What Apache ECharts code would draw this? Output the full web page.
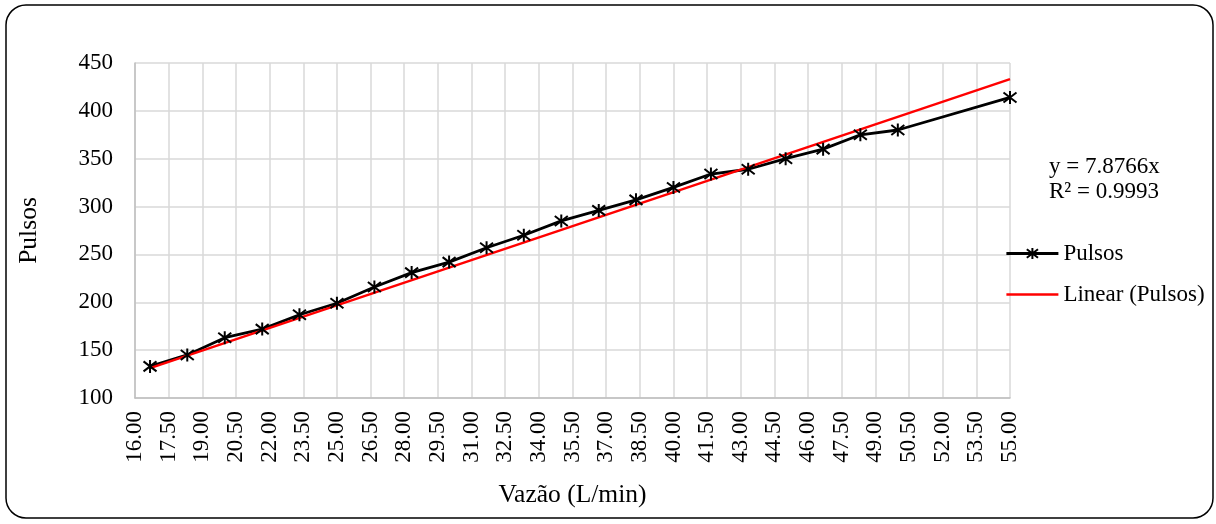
<!DOCTYPE html>
<html>
<head>
<meta charset="utf-8">
<script src="https://cdn.jsdelivr.net/npm/echarts@6/dist/echarts.min.js"></script>
<style>
  html, body { margin: 0; padding: 0; background: #fff; }
  #chart { width: 1216px; height: 524px; }
</style>
</head>
<body>
<div id="chart"></div>
<script>
var vazao = [16.67, 18.33, 20.00, 21.67, 23.33, 25.00, 26.67, 28.33, 30.00, 31.67, 33.33,
             35.00, 36.67, 38.33, 40.00, 41.67, 43.33, 45.00, 46.67, 48.33, 50.00, 55.00];
var pulsos = [133, 145, 163, 172, 187, 199, 216, 231, 242, 257, 270,
              285, 296, 307, 320, 334, 339, 350, 360, 375, 380, 414];
// trendline ends
var trendX = [16.67, 55.00];
var trendY = [131.3, 433.2];
var eqLines = ['y = 7.8766x', 'R² = 0.9993'];

var serif = "'Liberation Serif', 'Times New Roman', serif";
var star = 'path://M0 0 L10 10 M10 0 L0 10 M5 -1.5 L5 11.5';

var pts = vazao.map(function (v, i) { return [v, pulsos[i]]; });
var trend = trendX.map(function (v, i) { return [v, trendY[i]]; });

var option = {
    animation: false,
    backgroundColor: '#fff',
    textStyle: { fontFamily: serif },
    grid: { left: 135, right: 206, top: 63, bottom: 126 },
    legend: {
        orient: 'vertical',
        left: 1000,
        top: 237,
        itemWidth: 52,
        itemHeight: 14,
        itemGap: 18,
        textStyle: { fontFamily: serif, fontSize: 23, color: '#000', lineHeight: 23 },
        data: [
            { name: 'Pulsos', lineStyle: { width: 2.8 } },
            { name: 'Linear (Pulsos)', itemStyle: { opacity: 0 }, lineStyle: { width: 2.4 } }
        ]
    },
    xAxis: {
        type: 'value',
        min: 16,
        max: 55,
        interval: 1.5,
        name: 'Vazão (L/min)',
        nameLocation: 'middle',
        nameGap: 84,
        nameTextStyle: { fontFamily: serif, fontSize: 25.5, color: '#000' },
        axisLine: { show: true, lineStyle: { color: '#bfbfbf', width: 1.5 } },
        axisTick: { show: false },
        axisLabel: {
            rotate: 90,
            margin: 13,
            fontFamily: serif,
            fontSize: 23,
            color: '#000',
            showMinLabel: true,
            showMaxLabel: true,
            formatter: function (v) { return v.toFixed(2); }
        },
        splitLine: { show: true, lineStyle: { color: '#d9d9d9', width: 1.5 } }
    },
    yAxis: {
        type: 'value',
        min: 100,
        max: 450,
        interval: 50,
        name: 'Pulsos',
        nameLocation: 'middle',
        nameGap: 93,
        nameRotate: 90,
        nameTextStyle: { fontFamily: serif, fontSize: 25.5, color: '#000' },
        axisLine: { show: true, lineStyle: { color: '#bfbfbf', width: 1.5 } },
        axisTick: { show: false },
        axisLabel: { margin: 22, fontFamily: serif, fontSize: 23, color: '#000' },
        splitLine: { show: true, lineStyle: { color: '#d9d9d9', width: 1.5 } }
    },
    graphic: [
        {
            type: 'rect',
            shape: { x: 6, y: 5, width: 1207, height: 513, r: 20 },
            style: { fill: 'none', stroke: '#000', lineWidth: 1.5 },
            silent: true
        },
        {
            type: 'text',
            left: 1049,
            top: 155,
            style: { text: eqLines[0], font: '23px ' + serif, fill: '#000' }
        },
        {
            type: 'text',
            left: 1049,
            top: 180,
            style: { text: eqLines[1], font: '23px ' + serif, fill: '#000' }
        }
    ],
    series: [
        {
            name: 'Pulsos',
            type: 'line',
            data: pts,
            symbol: star,
            symbolSize: 13,
            itemStyle: { color: '#000', borderColor: '#000', borderWidth: 2 },
            lineStyle: { color: '#000', width: 2.8 }
        },
        {
            name: 'Linear (Pulsos)',
            type: 'line',
            data: trend,
            symbol: 'none',
            itemStyle: { color: '#ff0000' },
            lineStyle: { color: '#ff0000', width: 2.4 }
        }
    ]
};

var chart = echarts.init(document.getElementById('chart'));
chart.setOption(option);
</script>
</body>
</html>
